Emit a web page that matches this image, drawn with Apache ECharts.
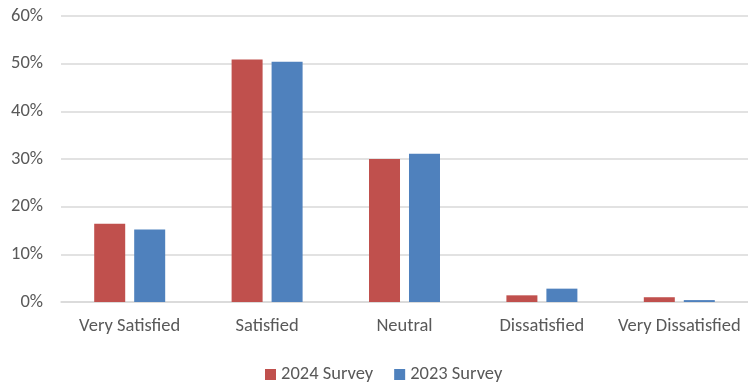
<!DOCTYPE html>
<html>
<head>
<meta charset="utf-8">
<title>Survey</title>
<script src="https://cdn.jsdelivr.net/npm/echarts@6/dist/echarts.min.js"></script>
</head>
<body style="margin:0">
<div id="chart" style="width:748px;height:382px;"></div>
<script>
var categories = ['Very Satisfied', 'Satisfied', 'Neutral', 'Dissatisfied', 'Very Dissatisfied'];
var survey2024 = [16.4, 50.9, 30.0, 1.4, 1.0];
var survey2023 = [15.2, 50.4, 31.1, 2.8, 0.4];
var seriesNames = ['2024 Survey', '2023 Survey'];

var font = 'Carlito, Lato, sans-serif';
var chart = echarts.init(document.getElementById('chart'));
chart.setOption({
    animation: false,
    textStyle: { fontFamily: font },
    grid: { left: 61, right: 0, top: 16, bottom: 80 },
    legend: {
        data: seriesNames,
        left: 260,
        top: 360,
        itemWidth: 11,
        itemHeight: 11,
        itemGap: 21,
        icon: 'rect',
        textStyle: { color: '#595959', fontSize: 18.5, fontFamily: font }
    },
    xAxis: {
        type: 'category',
        data: categories,
        axisLine: { lineStyle: { color: '#d9d9d9', width: 1.5 } },
        axisTick: { show: false },
        axisLabel: { color: '#595959', fontSize: 18.5, margin: 15, fontFamily: font, interval: 0 }
    },
    yAxis: {
        type: 'value',
        min: 0,
        max: 60,
        interval: 10,
        axisLine: { show: false },
        axisTick: { show: false },
        splitLine: { lineStyle: { color: '#d9d9d9', width: 1.5 } },
        axisLabel: { color: '#595959', fontSize: 18.5, margin: 18, fontFamily: font, formatter: '{value}%' }
    },
    series: [
        { name: seriesNames[0], type: 'bar', data: survey2024, barWidth: 31, barGap: '29%', itemStyle: { color: '#c0504d' } },
        { name: seriesNames[1], type: 'bar', data: survey2023, barWidth: 31, itemStyle: { color: '#4f81bd' } }
    ]
});
</script>
</body>
</html>
